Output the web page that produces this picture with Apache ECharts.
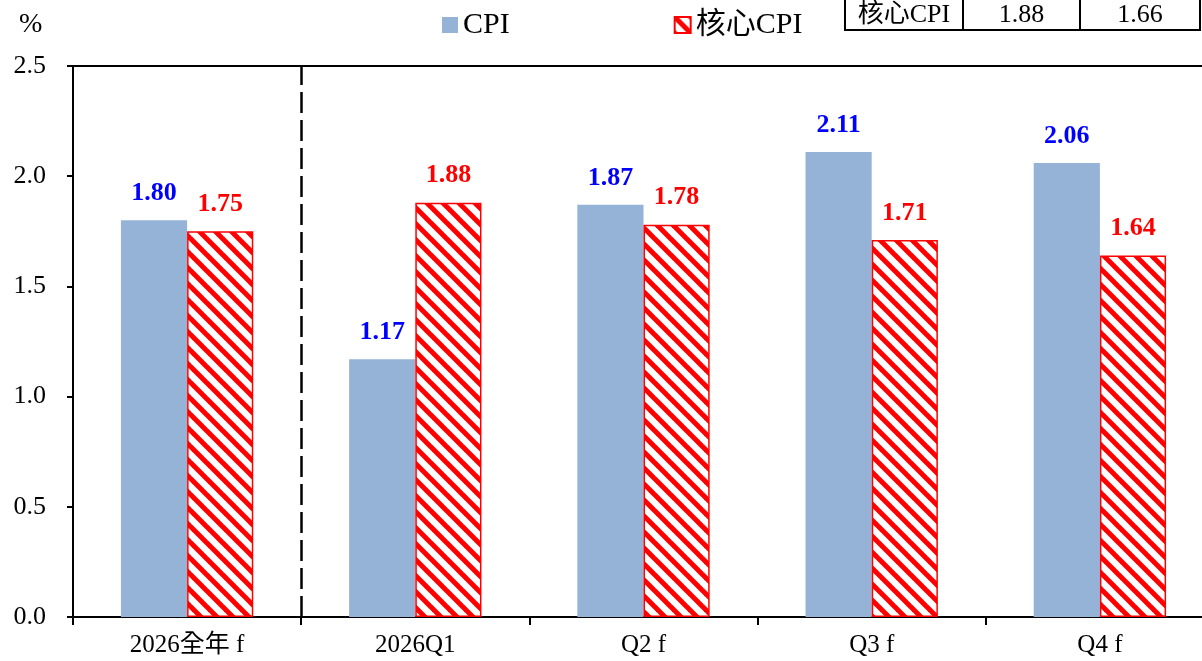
<!DOCTYPE html>
<html>
<head>
<meta charset="utf-8">
<script src="https://cdn.jsdelivr.net/npm/echarts@6/dist/echarts.min.js"></script>
<style>
  html, body { margin: 0; padding: 0; background: #fff; overflow: hidden; }
  /* 原圖右側被裁切，畫布比視窗寬一些 */
  #chart { width: 1214px; height: 661px; }
</style>
</head>
<body>
<div id="chart"></div>
<script>
const categories = ['2026全年 f', '2026Q1', 'Q2 f', 'Q3 f', 'Q4 f']
const cpiValues = [1.80, 1.17, 1.87, 2.11, 2.06]
const coreValues = [1.75, 1.88, 1.78, 1.71, 1.64]
const yTicks = [0, 0.5, 1.0, 1.5, 2.0, 2.5]
// 右上角表格只露出最後一列
const tableRow = ['核心CPI', '1.88', '1.66']
// 全年與季資料的分隔位置（以類別邊界計）
const dividerAt = 1

const FONT = "'Liberation Serif', 'Times New Roman', 'Noto Sans CJK TC', serif"

// 紅色斜線填充
const makeHatch = () => {
  const s = 16
  const cv = document.createElement('canvas')
  cv.width = s
  cv.height = s
  const ctx = cv.getContext('2d')
  ctx.fillStyle = '#ffffff'
  ctx.fillRect(0, 0, s, s)
  ctx.strokeStyle = '#ff0000'
  ctx.lineWidth = 5
  ;[-s, 0, s].forEach((k) => {
    ctx.beginPath()
    ctx.moveTo(k - 2, -2)
    ctx.lineTo(k + s + 2, s + 2)
    ctx.stroke()
  })
  return cv
}

const chart = echarts.init(document.getElementById('chart'))

const colEdges = [845, 963, 1080, 1200]

const labelStyle = (color) => ({
  show: true,
  position: 'top',
  distance: 14,
  fontFamily: FONT,
  fontSize: 26,
  fontWeight: 'bold',
  color,
  formatter: (p) => p.value.toFixed(2),
})

const option = {
  backgroundColor: '#ffffff',
  animation: false,
  title: {
    text: '%',
    left: 14,
    top: 6,
    textStyle: { fontFamily: FONT, fontSize: 28, fontWeight: 'normal', color: '#000' },
  },
  legend: {
    left: 442,
    top: 10,
    padding: 0,
    itemWidth: 16,
    itemHeight: 16,
    itemGap: 164,
    icon: 'rect',
    textStyle: { fontFamily: FONT, fontSize: 30, color: '#000' },
    data: ['CPI', '核心CPI'],
  },
  grid: {
    left: 73,
    right: 0,
    top: 66,
    bottom: 44,
  },
  xAxis: [
    {
      type: 'category',
      data: categories,
      axisLine: { lineStyle: { color: '#000', width: 2 } },
      axisTick: { show: true, length: 8, lineStyle: { color: '#000', width: 2 } },
      axisLabel: { fontFamily: FONT, fontSize: 25, color: '#000', margin: 16 },
      splitLine: { show: false },
    },
    {
      type: 'category',
      data: categories,
      position: 'top',
      axisLine: { show: true, lineStyle: { color: '#000', width: 2 } },
      axisTick: { show: false },
      axisLabel: { show: false },
      splitLine: { show: false },
    },
    {
      type: 'value',
      min: 0,
      max: categories.length,
      show: false,
    },
  ],
  yAxis: {
    type: 'value',
    min: yTicks[0],
    max: yTicks[yTicks.length - 1],
    interval: 0.5,
    axisLine: { show: true, lineStyle: { color: '#000', width: 2 } },
    axisTick: { show: true, length: 6, lineStyle: { color: '#000', width: 2 } },
    axisLabel: {
      fontFamily: FONT,
      fontSize: 26,
      color: '#000',
      margin: 27,
      formatter: (v) => v.toFixed(1),
    },
    splitLine: { show: false },
  },
  series: [
    {
      name: 'CPI',
      type: 'bar',
      data: cpiValues,
      barWidth: '29%',
      barGap: '0%',
      itemStyle: { color: '#95b3d7' },
      label: labelStyle('#0000ff'),
    },
    {
      name: '核心CPI',
      type: 'bar',
      data: coreValues,
      barWidth: '29%',
      barGap: '0%',
      itemStyle: {
        color: { image: makeHatch(), repeat: 'repeat' },
        borderColor: '#ff0000',
        borderWidth: 1.5,
      },
      label: labelStyle('#ff0000'),
    },
    {
      // 只用來畫分隔虛線
      name: 'divider',
      type: 'line',
      xAxisIndex: 2,
      data: [],
      silent: true,
      markLine: {
        symbol: 'none',
        silent: true,
        label: { show: false },
        lineStyle: { color: '#000', width: 2.5, type: [21, 7] },
        data: [{ xAxis: dividerAt }],
      },
    },
  ],
  graphic: [
    {
      type: 'rect',
      shape: { x: colEdges[0], y: -10, width: colEdges[3] - colEdges[0], height: 40 },
      style: { fill: '#fff', stroke: '#000', lineWidth: 2 },
    },
    ...colEdges.slice(1, 3).map((x) => ({
      type: 'line',
      shape: { x1: x, y1: -10, x2: x, y2: 30 },
      style: { stroke: '#000', lineWidth: 2 },
    })),
    ...tableRow.map((t, i) => ({
      type: 'text',
      x: (colEdges[i] + colEdges[i + 1]) / 2,
      y: 15,
      style: {
        text: t,
        fontFamily: FONT,
        fontSize: 26,
        fill: '#000',
        align: 'center',
        verticalAlign: 'middle',
      },
    })),
  ],
}

chart.setOption(option)
</script>
</body>
</html>
